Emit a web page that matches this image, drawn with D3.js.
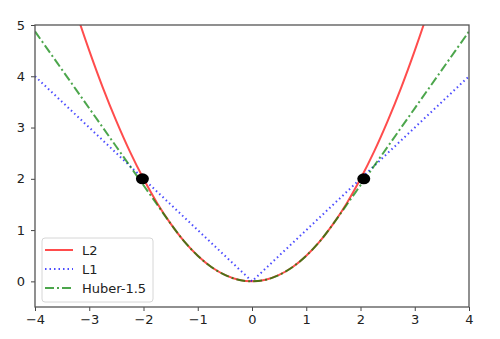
<!DOCTYPE html>
<html>
<head>
<meta charset="utf-8">
<script src="https://cdn.jsdelivr.net/npm/d3@7"></script>
<style>
  body { margin: 0; background: #fff; }
  svg text { font-family: "DejaVu Sans", sans-serif; }
</style>
</head>
<body>
<div id="chart"></div>
<script>
// sample points
const xs = [-4, -3.75, -3.5, -3.25, -3, -2.75, -2.5, -2.25, -2, -1.75, -1.5, -1.25, -1, -0.75, -0.5, -0.25,
            0, 0.25, 0.5, 0.75, 1, 1.25, 1.5, 1.75, 2, 2.25, 2.5, 2.75, 3, 3.25, 3.5, 3.75, 4];
const l2 = [8, 7.03, 6.125, 5.28, 4.5, 3.78, 3.125, 2.53, 2, 1.53, 1.125, 0.78, 0.5, 0.28, 0.125, 0.03,
            0, 0.03, 0.125, 0.28, 0.5, 0.78, 1.125, 1.53, 2, 2.53, 3.125, 3.78, 4.5, 5.28, 6.125, 7.03, 8];
const huber = [4.875, 4.5, 4.125, 3.75, 3.375, 3, 2.625, 2.25, 1.875, 1.5, 1.125, 0.78, 0.5, 0.28, 0.125, 0.03,
            0, 0.03, 0.125, 0.28, 0.5, 0.78, 1.125, 1.5, 1.875, 2.25, 2.625, 3, 3.375, 3.75, 4.125, 4.5, 4.875];
const l1X = [-4, 0, 4];
const l1Y = [4, 0, 4];
const markX = [-2.02, 2.06];
const markY = [2, 2];
const xTicks = [-4, -3, -2, -1, 0, 1, 2, 3, 4];
const yTicks = [0, 1, 2, 3, 4, 5];
const seriesNames = ['L2', 'L1', 'Huber-1.5'];

const W = 500, H = 339;
const margin = {left: 35, right: 31, top: 25, bottom: 32};

const svg = d3.select('#chart').append('svg')
  .attr('width', W)
  .attr('height', H);

const x = d3.scaleLinear().domain([-4, 4]).range([margin.left, W - margin.right]);
const y = d3.scaleLinear().domain([-0.5, 5]).range([H - margin.bottom, margin.top]);

svg.append('clipPath').attr('id', 'clip')
  .append('rect')
  .attr('x', x(-4)).attr('y', y(5))
  .attr('width', x(4) - x(-4)).attr('height', y(-0.5) - y(5));

const plot = svg.append('g').attr('clip-path', 'url(#clip)');

const line = d3.line().x(d => x(d[0])).y(d => y(d[1]));
const smooth = d3.line().x(d => x(d[0])).y(d => y(d[1])).curve(d3.curveCatmullRom);

const styles = [
  {color: '#ff0000', dash: null},
  {color: '#0000ff', dash: '1.5,3'},
  {color: '#008000', dash: '9,3,2,3'}
];

plot.append('path')
  .datum(xs.map((v, i) => [v, l2[i]]))
  .attr('d', smooth)
  .attr('fill', 'none')
  .attr('stroke', styles[0].color)
  .attr('stroke-opacity', 0.7)
  .attr('stroke-width', 2);

plot.append('path')
  .datum(l1X.map((v, i) => [v, l1Y[i]]))
  .attr('d', line)
  .attr('fill', 'none')
  .attr('stroke', styles[1].color)
  .attr('stroke-opacity', 0.7)
  .attr('stroke-width', 2)
  .attr('stroke-dasharray', styles[1].dash);

plot.append('path')
  .datum(xs.map((v, i) => [v, huber[i]]))
  .attr('d', smooth)
  .attr('fill', 'none')
  .attr('stroke', styles[2].color)
  .attr('stroke-opacity', 0.7)
  .attr('stroke-width', 2)
  .attr('stroke-dasharray', styles[2].dash);

plot.selectAll('ellipse.mark')
  .data(markX.map((v, i) => [v, markY[i]]))
  .enter()
  .append('ellipse')
  .attr('class', 'mark')
  .attr('cx', d => x(d[0]))
  .attr('cy', d => y(d[1]))
  .attr('rx', 6.5)
  .attr('ry', 5.5)
  .attr('fill', '#000');

// axes
const xAxis = svg.append('g')
  .attr('transform', `translate(0,${y(-0.5)})`)
  .call(d3.axisBottom(x).tickValues(xTicks).tickSize(4).tickPadding(4)
    .tickFormat(d => d < 0 ? '\u2212' + Math.abs(d) : d));
const yAxis = svg.append('g')
  .attr('transform', `translate(${x(-4)},0)`)
  .call(d3.axisLeft(y).tickValues(yTicks).tickSize(4).tickPadding(6).tickFormat(d3.format('d')));

[xAxis, yAxis].forEach(a => {
  a.select('.domain').remove();
  a.selectAll('line').attr('stroke', '#444');
  a.selectAll('text').attr('fill', '#222').style('font-size', '13px');
});

// frame
svg.append('rect')
  .attr('x', x(-4)).attr('y', y(5))
  .attr('width', x(4) - x(-4)).attr('height', y(-0.5) - y(5))
  .attr('fill', 'none')
  .attr('stroke', '#555')
  .attr('stroke-width', 1.3);

// legend
const legend = svg.append('g').attr('transform', 'translate(42,238)');
legend.append('rect')
  .attr('width', 111).attr('height', 64)
  .attr('rx', 3)
  .attr('fill', '#fff').attr('fill-opacity', 0.8)
  .attr('stroke', '#d6d6d6');

seriesNames.forEach((name, i) => {
  const yy = 12 + i * 19;
  legend.append('line')
    .attr('x1', 3).attr('x2', 31)
    .attr('y1', yy).attr('y2', yy)
    .attr('stroke', styles[i].color)
    .attr('stroke-opacity', 0.7)
    .attr('stroke-width', 2)
    .attr('stroke-dasharray', styles[i].dash);
  legend.append('text')
    .attr('x', 40).attr('y', yy + 5)
    .attr('fill', '#222')
    .style('font-size', '13px')
    .text(name);
});
</script>
</body>
</html>
